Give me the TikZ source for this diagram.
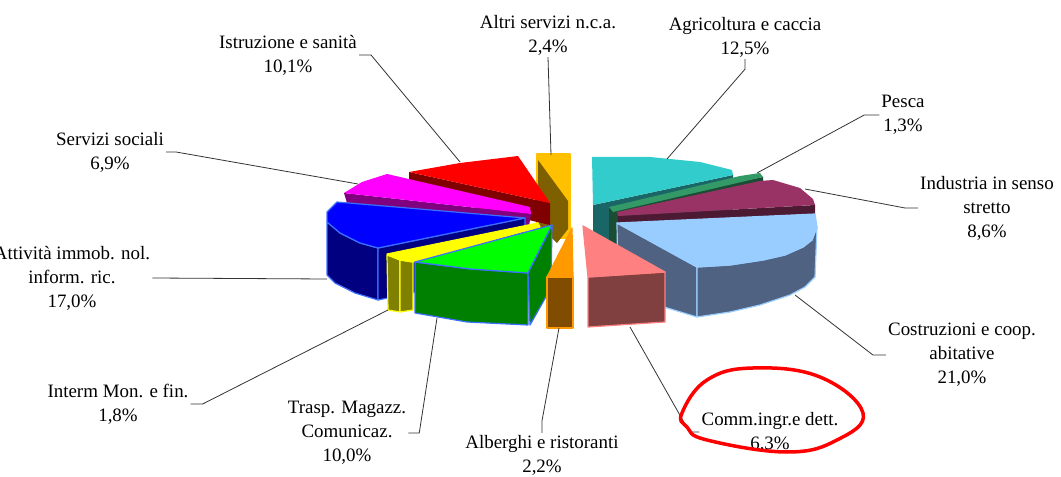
\documentclass[tikz,border=0pt]{standalone}
\usepackage{fontspec}
\setmainfont{Liberation Serif}
\usepackage{xcolor}
\definecolor{topColorA}{HTML}{33CCCC}
\definecolor{topColorB}{HTML}{339966}
\definecolor{topColorC}{HTML}{993366}
\definecolor{topColorD}{HTML}{99CCFF}
\definecolor{topColorE}{HTML}{FF8080}
\definecolor{topColorF}{HTML}{FF9900}
\definecolor{topColorG}{HTML}{00FF00}
\definecolor{topColorH}{HTML}{FFFF00}
\definecolor{topColorI}{HTML}{0000FF}
\definecolor{topColorJ}{HTML}{FF00FF}
\definecolor{topColorK}{HTML}{FF0000}
\definecolor{topColorL}{HTML}{FFC000}
\definecolor{sideColorA}{HTML}{1A6666}
\definecolor{sideColorB}{HTML}{1A4D33}
\definecolor{sideColorC}{HTML}{4D1A33}
\definecolor{sideColorD}{HTML}{4F6281}
\definecolor{sideColorE}{HTML}{804040}
\definecolor{sideColorF}{HTML}{804C00}
\definecolor{sideColorG}{HTML}{008000}
\definecolor{sideColorH}{HTML}{808000}
\definecolor{sideColorI}{HTML}{000080}
\definecolor{sideColorJ}{HTML}{800080}
\definecolor{sideColorK}{HTML}{800000}
\definecolor{sideColorL}{HTML}{7F6000}
\definecolor{edgeColorBlue}{HTML}{3C6EFF}
\definecolor{leaderColor}{HTML}{333333}
\def\textA{Agricoltura e caccia\\12,5\%}
\def\textB{Pesca\\1,3\%}
\def\textC{Industria in senso\\stretto\\8,6\%}
\def\textD{Costruzioni e coop.\\abitative\\21,0\%}
\def\textE{Comm.ingr.e dett.\\6,3\%}
\def\textF{Alberghi e ristoranti\\2,2\%}
\def\textG{Trasp. Magazz.\\Comunicaz.\\10,0\%}
\def\textH{Interm Mon. e fin.\\1,8\%}
\def\textI{Attività immob. nol.\\inform. ric.\\17,0\%}
\def\textJ{Servizi sociali\\6,9\%}
\def\textK{Istruzione e sanità\\10,1\%}
\def\textL{Altri servizi n.c.a.\\2,4\%}
\begin{document}
\begin{tikzpicture}[x=1bp,y=-1bp,
  lbl/.style={align=center, inner sep=2bp, font=\fontsize{19}{24}\selectfont},
  leader/.style={draw=leaderColor, line width=0.8bp},
  face/.style={line width=1.2bp, line join=round}]
\useasboundingbox (0,0) rectangle (1061,477);

% left half of the pie
\begin{scope}
% Altri servizi
\filldraw[face, fill=topColorL, draw=topColorL] (537,154) -- (570,154) -- (570,238) -- (537,238) -- cycle;
\fill[sideColorL] (538,160) -- (568,201) -- (568,229) -- (557,243) -- (538,225) -- cycle;
% Istruzione e sanita
\fill[sideColorK] (409,172) -- (550,203) -- (550,225) -- (409,192) -- cycle;
\fill[topColorK] (409,172) -- (460,163) -- (518,156) -- (550,203) -- cycle;
% Servizi sociali
\fill[sideColorJ] (344,193) -- (531,214) -- (529,226) -- (347,203) -- cycle;
\fill[topColorJ] (344,193) -- (362,182) -- (387,174) -- (530,207) -- (531,214) -- cycle;
% Attivita immob.
\filldraw[face, fill=sideColorI, draw=edgeColorBlue] (327,222) -- (340,233) -- (360,243) -- (378,248)
  -- (378,300) -- (355,293) -- (335,283) -- (327,275) -- cycle;
\filldraw[face, fill=sideColorI, draw=edgeColorBlue] (378,248) -- (525,218) -- (525,270) -- (378,300) -- cycle;
\filldraw[face, fill=topColorI, draw=edgeColorBlue] (337,202) -- (525,218) -- (378,248) -- (360,243)
  -- (340,233) -- (327,222) -- (327,212) -- cycle;
% Interm. Mon.
\filldraw[face, fill=sideColorH, draw=topColorH] (387,255) -- (400,260) -- (400,312) -- (388,310) -- cycle;
\filldraw[face, fill=sideColorH, draw=topColorH] (400,260) -- (413,262) -- (413,310) -- (400,312) -- cycle;
\filldraw[face, fill=topColorH, draw=topColorH] (387,254) -- (538,223) -- (540,227) -- (413,262) -- (400,260) -- cycle;
% Trasp. Magazz.
\filldraw[face, fill=sideColorG, draw=edgeColorBlue] (415,262) -- (470,269) -- (528,273) -- (528,325)
  -- (467,322) -- (415,313) -- cycle;
\filldraw[face, fill=sideColorG, draw=edgeColorBlue] (528,273) -- (552,225) -- (551,288) -- (530,325) -- cycle;
\filldraw[face, fill=topColorG, draw=edgeColorBlue] (415,262) -- (552,225) -- (528,273) -- (470,269) -- cycle;
% Alberghi
\filldraw[face, fill=sideColorF, draw=topColorF] (547,277) -- (573,277) -- (573,328) -- (547,328) -- cycle;
\filldraw[face, fill=topColorF, draw=topColorF] (547,277) -- (572,228) -- (573,277) -- cycle;
\end{scope}

% right half of the pie
\begin{scope}
% Agricoltura
\fill[sideColorA] (593,205) -- (733,175) -- (733,230) -- (593,260) -- cycle;
\fill[topColorA] (592,157) -- (650,157) -- (700,162) -- (732,170) -- (733,175) -- (593,205) -- cycle;
% Pesca
\fill[sideColorB] (609,208) -- (763,177) -- (763,186) -- (613,250) -- (609,250) -- cycle;
\fill[topColorB] (609,207) -- (740,176) -- (760,173) -- (763,177) -- (613,212) -- cycle;
% Industria
\fill[sideColorC] (618,216) -- (815,205) -- (815,214) -- (618,226) -- cycle;
\fill[topColorC] (617,212) -- (760,181) -- (773,180) -- (800,188) -- (813,199) -- (815,205) -- (618,216) -- cycle;
% Costruzioni
\filldraw[face, fill=sideColorD, draw=topColorD] (617,223) -- (697,267) -- (697,317) -- (618,293) -- cycle;
\filldraw[face, fill=sideColorD, draw=topColorD] (697,267) -- (730,265) -- (763,260) -- (785,255) -- (803,247)
  -- (812,240) -- (817,227) -- (815,277) -- (805,287) -- (790,295) -- (760,305) -- (730,312) -- (697,317) -- cycle;
\filldraw[face, fill=topColorD, draw=topColorD] (617,223) -- (815,214) -- (817,227) -- (812,240) -- (803,247)
  -- (785,255) -- (763,260) -- (730,265) -- (697,267) -- cycle;
% Comm. ingr.
\filldraw[face, fill=sideColorE, draw=topColorE] (588,277) -- (665,272) -- (665,322) -- (588,327) -- cycle;
\filldraw[face, fill=topColorE, draw=topColorE] (583,226) -- (665,272) -- (588,277) -- cycle;
\end{scope}

% label layer
\begin{scope}
\node[lbl] (lblA) at (745,37) {\textA};
\node[lbl] (lblB) at (903,115) {\textB};
\node[lbl] (lblC) at (987,208) {\textC};
\node[lbl] (lblD) at (962,355) {\textD};
\node[lbl] (lblE) at (770,432) {\textE};
\node[lbl] (lblF) at (542,455) {\textF};
\node[lbl] (lblG) at (347,433) {\textG};
\node[lbl] (lblH) at (118,404) {\textH};
\node[lbl] (lblI) at (72,278) {\textI};
\node[lbl] (lblJ) at (110,152) {\textJ};
\node[lbl] (lblK) at (288,55) {\textK};
\node[lbl] (lblL) at (548,35) {\textL};
\end{scope}

% leader layer
\begin{scope}
\coordinate (tipA) at (667,159);
\coordinate (tipB) at (757,173);
\coordinate (tipC) at (805,189);
\coordinate (tipD) at (795,295);
\coordinate (tipE) at (630,327);
\coordinate (tipF) at (559,328);
\coordinate (tipG) at (437,318);
\coordinate (tipH) at (388,310);
\coordinate (tipI) at (327,279);
\coordinate (tipJ) at (358,184);
\coordinate (tipK) at (460,162);
\coordinate (tipL) at (551,155);
\draw[leader] (lblA.south) -- ++(0,10) -- (tipA);
\draw[leader] (lblB.west) -- ++(-15,0) -- (tipB);
\draw[leader] (lblC.west) -- ++(-13,0) -- (tipC);
\draw[leader] (lblD.west) -- ++(-13,0) -- (tipD);
\draw[leader] (lblE.west) -- ++(-10,0) -- (tipE);
\draw[leader] (lblF.north) -- ++(0,-12) -- (tipF);
\draw[leader] (lblG.east) -- ++(11,0) -- (tipG);
\draw[leader] (lblH.east) -- ++(12,0) -- (tipH);
\draw[leader] (lblI.east) -- (tipI);
\draw[leader] (lblJ.east) -- ++(10,0) -- (tipJ);
\draw[leader] (lblK.east) -- ++(12,0) -- (tipK);
\draw[leader] (lblL.south) -- (tipL);
\end{scope}

% hand drawn ring
\draw[red, line width=3.5bp, line join=round] plot[smooth cycle, tension=0.7] coordinates
  {(682,413) (707,380) (753,368) (820,377) (863,413) (837,440) (787,452) (707,440) (687,427)};
\end{tikzpicture}
\end{document}
